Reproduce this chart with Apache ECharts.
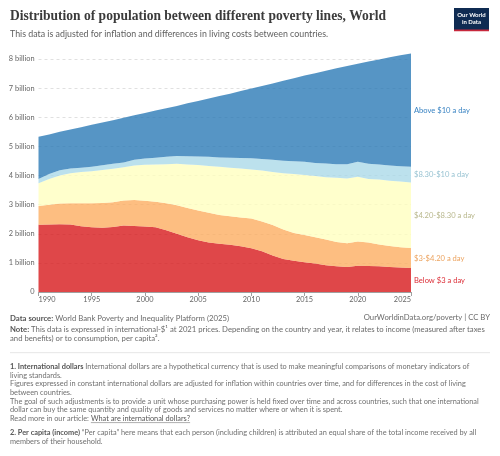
<!DOCTYPE html>
<html><head><meta charset="utf-8">
<script src="https://cdn.jsdelivr.net/npm/echarts@6/dist/echarts.min.js"></script>
<style>html,body{margin:0;padding:0;background:#fff}#c{width:500px;height:456px}</style>
</head><body><div id="c"></div>
<script>
const years = ['1990','1991','1992','1993','1994','1995','1996','1997','1998','1999','2000','2001','2002','2003','2004','2005','2006','2007','2008','2009','2010','2011','2012','2013','2014','2015','2016','2017','2018','2019','2020','2021','2022','2023','2024','2025'];
// billions of people
const below3 = [2.31,2.32,2.33,2.32,2.26,2.22,2.21,2.23,2.28,2.27,2.25,2.22,2.12,2.00,1.88,1.78,1.70,1.66,1.62,1.57,1.50,1.40,1.25,1.13,1.07,1.02,0.98,0.92,0.88,0.86,0.90,0.89,0.88,0.86,0.84,0.82];
const from3to420 = [0.64,0.68,0.71,0.73,0.79,0.83,0.85,0.85,0.86,0.89,0.88,0.88,0.93,0.98,1.00,1.02,1.02,0.98,0.98,0.99,1.02,1.02,1.05,1.02,0.96,0.94,0.90,0.88,0.84,0.81,0.83,0.81,0.75,0.72,0.70,0.69];
const from420to830 = [0.78,0.88,0.96,1.03,1.07,1.10,1.13,1.15,1.14,1.18,1.24,1.28,1.34,1.42,1.50,1.56,1.61,1.66,1.67,1.68,1.69,1.75,1.82,1.93,2.02,2.06,2.10,2.14,2.20,2.23,2.23,2.18,2.23,2.24,2.25,2.25];
const from830to10 = [0.15,0.17,0.18,0.16,0.15,0.15,0.16,0.17,0.17,0.20,0.21,0.23,0.25,0.27,0.28,0.29,0.31,0.32,0.34,0.36,0.38,0.40,0.42,0.43,0.44,0.45,0.45,0.47,0.47,0.49,0.51,0.52,0.52,0.52,0.53,0.54];
const above10 = [1.45,1.36,1.32,1.34,1.39,1.44,1.47,1.50,1.53,1.53,1.57,1.62,1.67,1.72,1.82,1.91,2.00,2.11,2.20,2.30,2.40,2.50,2.62,2.74,2.85,2.96,3.08,3.19,3.29,3.37,3.37,3.51,3.60,3.72,3.81,3.89];
const seriesNames = ['Below $3 a day','$3-$4.20 a day','$4.20-$8.30 a day','$8.30-$10 a day','Above $10 a day'];
const seriesData = [below3, from3to420, from420to830, from830to10, above10];
const areaColors = ['#d7191c','#fdae61','#ffffbf','#abd9e9','#2c7bb6'];
const labelColors = ['#dc2f38','#eca35f','#b8b78c','#98c3d2','#3a84c3'];

const F = 'Lato, "Noto Sans", sans-serif';
const SERIF = '"Liberation Serif", serif';
const mc = document.createElement('canvas').getContext('2d');
function wOf(text, fam, weight){ mc.font = (weight||'') + ' 100px ' + fam; return mc.measureText(text).width/100; }
function fit(text, fam, weight, target){ return +(target / wOf(text, fam, weight)).toFixed(2); }
const titleText = 'Distribution of population between different poverty lines, World';
const subText = 'This data is adjusted for inflation and differences in living costs between countries.';
const srcText = 'World Bank Poverty and Inequality Platform (2025)';
const note1 = 'This data is expressed in international-$¹ at 2021 prices. Depending on the country and year, it relates to income (measured after taxes';
const fn1 = 'International dollars are a hypothetical currency that is used to make meaningful comparisons of monetary indicators of';

const titleSize = fit(titleText, SERIF, 'bold', 376);
const subSize = fit(subText, F, '', 318);
const srcSize = +(219/(wOf('Data source: ',F,'bold')+wOf(srcText,F,''))).toFixed(2);
const noteSize = +(475/(wOf('Note: ',F,'bold')+wOf(note1,F,''))).toFixed(2);
const fnSize = +(460/(wOf('1. International dollars ',F,'bold')+wOf(fn1,F,''))).toFixed(2);
const labSize = fit('Above $10 a day', F, '', 56);
const axSize = fit('8 billion', F, '', 25.7);

const chart = echarts.init(document.getElementById('c'), null, {renderer:'canvas'});

const series = seriesNames.map((n,i)=>({
  name:n, type:'line', stack:'total', data:seriesData[i], symbol:'none', clip:false,
  lineStyle:{width:0}, areaStyle:{color:areaColors[i], opacity:0.8},
  emphasis:{disabled:true}, silent:true
}));

function txt(x,y,text,font,fill,align){
  return {type:'text', x:x, y:y, silent:true, style:{text:text, font:font, fill:fill, align:align||'left', verticalAlign:'middle'}};
}
function rich(x,y,text,size,fill,boldFill){
  return {type:'text', x:x, y:y, silent:true, style:{text:text, font:size+'px '+F, fill:fill, align:'left', verticalAlign:'middle',
    rich:{b:{font:'bold '+size+'px '+F, fill:boldFill}}}};
}
const fnCol = '#6f6f6f', fnBold = '#555', ftCol = '#6a6a6a';
const graphics = [
  txt(10,17,titleText,'bold '+titleSize+'px '+SERIF,'#3b3b3b'),
  txt(10,34,subText,subSize+'px '+F,'#5e5e5e'),
  {type:'group', x:454, y:8, silent:true, children:[
    {type:'rect', shape:{x:0,y:0,width:35,height:23}, style:{fill:'#0f2b52'}},
    {type:'rect', shape:{x:0,y:21.5,width:35,height:1.8}, style:{fill:'#c8283c'}},
    txt(17.5,7.5,'Our World','bold 6px '+F,'#fff','center'),
    txt(17.5,14.5,'in Data','bold 6px '+F,'#fff','center')
  ]},
  rich(10,318,'{b|Data source:} '+srcText,srcSize,ftCol,'#555'),
  txt(490,318,'OurWorldinData.org/poverty | CC BY',noteSize+'px '+F,ftCol,'right'),
  rich(10,330,'{b|Note:} '+note1,noteSize,ftCol,'#555'),
  txt(10,338.7,'and benefits) or to consumption, per capita².',noteSize+'px '+F,ftCol),
  {type:'line', silent:true, shape:{x1:10,y1:352.7,x2:490,y2:352.7}, style:{stroke:'#e6e6e6', lineWidth:1}},
  rich(10,366.7,'{b|1. International dollars} '+fn1,fnSize,fnCol,fnBold),
  txt(10,375.3,'living standards.',fnSize+'px '+F,fnCol),
  txt(10,384,'Figures expressed in constant international dollars are adjusted for inflation within countries over time, and for differences in the cost of living',fnSize+'px '+F,fnCol),
  txt(10,392.7,'between countries.',fnSize+'px '+F,fnCol),
  txt(10,401.7,'The goal of such adjustments is to provide a unit whose purchasing power is held fixed over time and across countries, such that one international',fnSize+'px '+F,fnCol),
  txt(10,410,'dollar can buy the same quantity and quality of goods and services no matter where or when it is spent.',fnSize+'px '+F,fnCol),
  rich(10,432.7,'{b|2. Per capita (income)} “Per capita” here means that each person (including children) is attributed an equal share of the total income received by all',fnSize,fnCol,fnBold),
  txt(10,441.3,'members of their household.',fnSize+'px '+F,fnCol)
];
const pre = 'Read more in our article: ', link = 'What are international dollars?';
const w1 = wOf(pre,F,'')*fnSize, w2 = wOf(link,F,'')*fnSize;
graphics.push(txt(10,418.7,pre,fnSize+'px '+F,fnCol));
graphics.push(txt(10+w1,418.7,link,fnSize+'px '+F,'#555'));
graphics.push({type:'line', silent:true, shape:{x1:10+w1,y1:422.6,x2:10+w1+w2,y2:422.6}, style:{stroke:'#777', lineWidth:0.6}});

chart.setOption({
  animation:false,
  grid:{left:38.5, right:89, top:59, bottom:164, containLabel:false},
  xAxis:{type:'category', data:years, boundaryGap:false,
    axisLine:{lineStyle:{color:'#a0a0a0', width:1}},
    axisTick:{show:true, interval:4, length:4, lineStyle:{color:'#a0a0a0'}},
    axisLabel:{interval:4, color:'#666', fontSize:axSize, fontFamily:F, margin:4, alignMinLabel:'left', alignMaxLabel:'right'},
    splitLine:{show:false}},
  yAxis:{type:'value', min:0, max:8, interval:1,
    axisLine:{show:false}, axisTick:{show:false},
    axisLabel:{color:'#666', fontSize:axSize, fontFamily:F, margin:4, formatter:v=> v===0?'0':v+' billion'},
    splitLine:{show:true, lineStyle:{color:'#d9d9d9', type:[3,3], width:0.8}}},
  series:series,
  graphic:graphics
});

const last = years.length-1;
let cum = 0;
const labs = [];
seriesData.forEach((arr,i)=>{
  const mid = cum + arr[last]/2; cum += arr[last];
  const p = chart.convertToPixel({gridIndex:0}, [last, mid]);
  labs.push(txt(p[0]+3, p[1], seriesNames[i], labSize+'px '+F, labelColors[i]));
});
chart.setOption({graphic: graphics.concat(labs)});
</script></body></html>
